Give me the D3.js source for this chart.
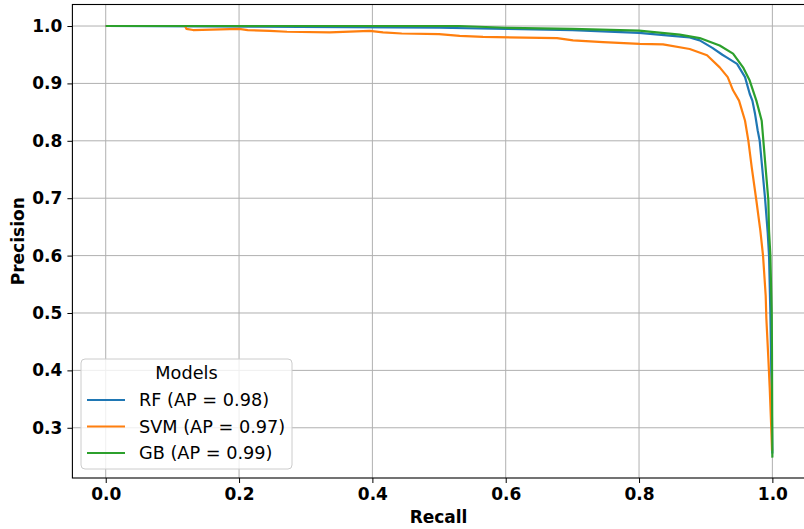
<!DOCTYPE html>
<html>
<head>
<meta charset="utf-8">
<script src="https://cdn.jsdelivr.net/npm/d3@7"></script>
<style>
  html, body { margin: 0; padding: 0; background: #fff; }
  svg { display: block; font-family: "DejaVu Sans", sans-serif; }
</style>
</head>
<body>
<svg id="chart" width="804" height="529"></svg>
<script>
// ---- data ----
const seriesNames = ["RF (AP = 0.98)", "SVM (AP = 0.97)", "GB (AP = 0.99)"];
const seriesColors = ["#1f77b4", "#ff7f0e", "#2ca02c"];

const rfRecall = [0, 0.22, 0.5, 0.6, 0.7, 0.8, 0.85, 0.876, 0.891, 0.91, 0.925, 0.932, 0.947, 0.959, 0.966, 0.970, 0.974, 0.978, 0.981, 0.985, 0.989, 0.991, 0.993, 0.995, 0.997, 0.998, 0.999, 1.0];
const rfPrecision = [1.0, 0.999, 0.997, 0.995, 0.993, 0.988, 0.983, 0.980, 0.975, 0.962, 0.950, 0.945, 0.934, 0.911, 0.882, 0.870, 0.847, 0.818, 0.800, 0.750, 0.700, 0.670, 0.640, 0.600, 0.500, 0.430, 0.350, 0.255];

const svmRecall = [0, 0.119, 0.121, 0.131, 0.2, 0.213, 0.246, 0.272, 0.336, 0.396, 0.416, 0.444, 0.50, 0.531, 0.566, 0.677, 0.701, 0.746, 0.801, 0.836, 0.876, 0.902, 0.921, 0.933, 0.941, 0.950, 0.959, 0.964, 0.969, 0.976, 0.982, 0.986, 0.990, 0.991, 0.994, 0.996, 0.998, 0.9995];
const svmPrecision = [1.0, 1.0, 0.995, 0.993, 0.995, 0.993, 0.9915, 0.990, 0.989, 0.9915, 0.989, 0.987, 0.986, 0.983, 0.981, 0.979, 0.975, 0.972, 0.969, 0.968, 0.960, 0.949, 0.928, 0.911, 0.888, 0.870, 0.835, 0.800, 0.754, 0.696, 0.643, 0.600, 0.530, 0.490, 0.420, 0.370, 0.310, 0.260];

const gbRecall = [0, 0.53, 0.6, 0.7, 0.8, 0.861, 0.891, 0.921, 0.941, 0.956, 0.966, 0.976, 0.984, 0.989, 0.994, 0.995, 0.997, 0.999, 0.9994, 1.0];
const gbPrecision = [1.0, 1.0, 0.997, 0.995, 0.992, 0.985, 0.979, 0.966, 0.952, 0.928, 0.905, 0.870, 0.835, 0.765, 0.696, 0.643, 0.600, 0.498, 0.434, 0.248];

const xTicks = [0.0, 0.2, 0.4, 0.6, 0.8, 1.0];
const yTicks = [0.3, 0.4, 0.5, 0.6, 0.7, 0.8, 0.9, 1.0];
const legendTitle = "Models";

// ---- layout ----
const svg = d3.select("#chart");
const L = 72.4, R = 805.7, T = 4.5, B = 478;
const x = d3.scaleLinear().domain([-0.05, 1.05]).range([L, R]);
const y = d3.scaleLinear().domain([0.2125, 1.0375]).range([B, T]);

// grid
const grid = svg.append("g");
grid.selectAll("line.gx").data(xTicks).enter().append("line")
  .attr("x1", d => x(d)).attr("x2", d => x(d)).attr("y1", T).attr("y2", B)
  .attr("stroke", "#b0b0b0").attr("stroke-width", 1);
grid.selectAll("line.gy").data(yTicks).enter().append("line")
  .attr("x1", L).attr("x2", R).attr("y1", d => y(d)).attr("y2", d => y(d))
  .attr("stroke", "#b0b0b0").attr("stroke-width", 1);

// curves
const series = [
  {r: rfRecall, p: rfPrecision},
  {r: svmRecall, p: svmPrecision},
  {r: gbRecall, p: gbPrecision}
];
const line = d3.line().x(d => x(d[0])).y(d => y(d[1]));
series.forEach((s, i) => {
  const pts = s.r.map((rv, j) => [rv, s.p[j]]);
  svg.append("path").datum(pts)
    .attr("d", line)
    .attr("fill", "none")
    .attr("stroke", seriesColors[i])
    .attr("stroke-width", 2.2)
    .attr("stroke-linejoin", "round");
});

// axes
const xAxis = d3.axisBottom(x).tickValues(xTicks).tickFormat(d3.format(".1f")).tickSize(5).tickPadding(5);
const yAxis = d3.axisLeft(y).tickValues(yTicks).tickFormat(d3.format(".1f")).tickSize(5).tickPadding(5);
const gx = svg.append("g").attr("transform", `translate(0,${B})`).call(xAxis);
const gy = svg.append("g").attr("transform", `translate(${L},0)`).call(yAxis);
[gx, gy].forEach(g => {
  g.select(".domain").remove();
  g.selectAll(".tick line").attr("stroke", "#000").attr("stroke-width", 1);
  g.selectAll(".tick text").attr("fill", "#000")
    .style("font-family", "'DejaVu Sans', sans-serif")
    .style("font-size", "17px").style("font-weight", "bold");
});
gx.selectAll(".tick text").attr("dy", "0.71em");

// spines
svg.append("rect").attr("x", L).attr("y", T).attr("width", R - L).attr("height", B - T)
  .attr("fill", "none").attr("stroke", "#000").attr("stroke-width", 1.1);

// axis labels
svg.append("text").attr("x", (L + R) / 2 - 0.5).attr("y", 523)
  .attr("text-anchor", "middle").style("font-size", "17px").style("font-weight", "bold")
  .text("Recall");
svg.append("text").attr("transform", `translate(24,${(T + B) / 2}) rotate(-90)`)
  .attr("text-anchor", "middle").style("font-size", "17px").style("font-weight", "bold")
  .text("Precision");

// legend
const lg = svg.append("g").attr("transform", "translate(81,359)");
lg.append("rect").attr("width", 211).attr("height", 110).attr("rx", 4)
  .attr("fill", "#fff").attr("fill-opacity", 0.8).attr("stroke", "#cccccc").attr("stroke-width", 1);
lg.append("text").attr("x", 105.5).attr("y", 20).attr("text-anchor", "middle")
  .style("font-size", "17.7px").text(legendTitle);
seriesNames.forEach((n, i) => {
  const cy = 41 + i * 26.5;
  lg.append("line").attr("x1", 6).attr("x2", 44).attr("y1", cy).attr("y2", cy)
    .attr("stroke", seriesColors[i]).attr("stroke-width", 2.2);
  lg.append("text").attr("x", 58).attr("y", cy).attr("dy", "0.35em")
    .style("font-size", "17.7px").text(n);
});
</script>
</body>
</html>
